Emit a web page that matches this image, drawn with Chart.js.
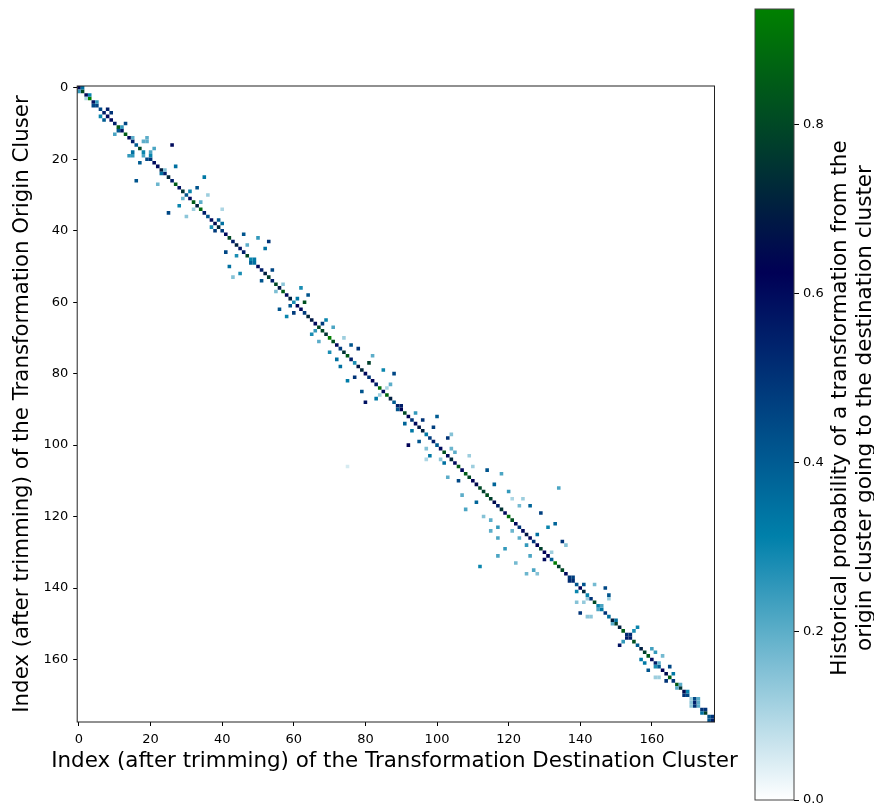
<!DOCTYPE html>
<html lang="en">
<head>
<meta charset="UTF-8">
<title>Transformation probability heatmap</title>
<script src="https://cdn.jsdelivr.net/npm/chart.js"></script>
<style>
body { margin: 0; background: #fff; }
canvas { position: absolute; top: 0; }
#heatmap { left: 0; }
#colorbar { left: 745px; }
</style>
</head>
<body>
<canvas id="heatmap" width="745" height="805"></canvas>
<canvas id="colorbar" width="129" height="805"></canvas>
<script>
const tickValues = [0, 20, 40, 60, 80, 100, 120, 140, 160];
const colorbarTicks = [0, 0.2, 0.4, 0.6, 0.8];
const clusterCount = 178;
const maxProbability = 0.937;

// diagonal of the matrix, index = cluster (0 = no cell)
const diagonal = [
	.6, .8, .6, .93, .58, .45, .45, .55, .6, .6, .55, .85, .58, .85, .6, .55, .4, .8, .3, 0,
	.5, .6, .6, .7, .55, .72, .55, .85, .58, .75, .42, .6, .85, .7, .88, .55, .42, .6, .65, .72,
	.48, .6, .8, .55, .7, .58, .55, .8, .3, .35, .6, .55, .7, .78, .55, .8, .68, .85, .6, .7,
	.28, .62, .6, .48, .72, .68, .6, .8, .8, .75, .93, .82, .6, .48, .75, .85, .55, .28, .68, .72,
	.6, .5, .62, .55, .9, .6, .88, .7, .4, .55, .62, .8, .62, .5, .6, .68, .7, .33, .48, .55,
	.4, .6, .82, .6, .72, .6, .85, .6, .85, .8, .62, .65, .8, .78, .82, .78, .65, .55, .75, .6,
	.9, .82, .6, .5, .6, .68, .6, .5, .62, .78, .62, .62, .4, .93, .78, .8, .6, .5, .52, .42,
	.62, .72, .3, .5, .8, .3, .33, .5, .35, .7, .78, .7, .85, .52, .55, .82, .4, .7, .78, .85,
	.6, .55, .4, .62, .65, .85, .5, .85, .75, .65, .45, .12, .55, .2, .5, .78, .42, .55
];

// off-diagonal cells, three parallel lists
const offOrigin = [
	0, 1, 2, 3, 4, 5, 6, 7, 8, 9, 10, 11, 12, 13, 14, 14, 15, 15, 16, 17,
	18, 18, 19, 19, 19, 19, 20, 21, 22, 23, 24, 26, 27, 28, 29, 30, 31, 32, 33, 34,
	34, 35, 36, 37, 38, 39, 40, 41, 42, 43, 44, 45, 46, 47, 48, 49, 50, 51, 52, 53,
	54, 55, 56, 57, 58, 59, 60, 61, 62, 63, 64, 65, 66, 67, 68, 69, 70, 71, 72, 73,
	74, 75, 76, 77, 78, 79, 80, 81, 82, 83, 84, 85, 86, 87, 88, 89, 90, 91, 92, 93,
	94, 95, 96, 97, 98, 99, 100, 101, 101, 102, 103, 103, 104, 104, 105, 106, 106, 107, 108, 109,
	110, 111, 112, 113, 114, 115, 115, 116, 117, 117, 118, 119, 120, 121, 122, 123, 123, 124, 124, 125,
	126, 126, 127, 128, 128, 129, 130, 131, 131, 132, 133, 134, 135, 136, 136, 137, 138, 139, 139, 140,
	141, 142, 143, 143, 144, 144, 145, 146, 147, 148, 148, 149, 150, 151, 152, 153, 154, 155, 156, 157,
	158, 159, 160, 161, 161, 162, 162, 163, 164, 165, 165, 166, 167, 168, 169, 170, 171, 171, 172, 172,
	173, 173, 174, 175, 176, 177, 25
];
const offDestination = [
	1, 0, 3, 2, 5, 4, 8, 9, 6, 7, 13, 12, 11, 10, 15, 19, 18, 19, 26, 21,
	15, 20, 14, 15, 18, 20, 19, 17, 27, 24, 23, 16, 22, 33, 31, 36, 29, 34, 28, 32,
	40, 25, 30, 39, 40, 37, 38, 46, 50, 53, 47, 52, 41, 44, 49, 48, 42, 54, 45, 43,
	51, 57, 62, 55, 64, 61, 63, 59, 56, 60, 58, 69, 68, 71, 66, 65, 74, 67, 76, 78,
	70, 82, 72, 81, 73, 85, 88, 77, 75, 87, 86, 79, 84, 83, 80, 90, 89, 94, 100, 96,
	91, 99, 93, 104, 103, 95, 92, 97, 104, 105, 98, 109, 97, 101, 102, 110, 75, 114, 118, 103,
	106, 116, 134, 120, 107, 121, 124, 111, 123, 126, 108, 129, 113, 115, 133, 117, 131, 115, 121, 128,
	117, 123, 135, 125, 136, 119, 132, 117, 126, 130, 122, 112, 127, 125, 128, 138, 137, 141, 144, 147,
	139, 148, 142, 148, 139, 141, 146, 145, 140, 142, 143, 150, 149, 156, 155, 154, 153, 152, 151, 160,
	161, 163, 157, 158, 162, 161, 165, 159, 166, 161, 162, 164, 168, 167, 170, 169, 172, 173, 171, 173,
	171, 172, 175, 174, 177, 176, 35
];
const offProbability = [
	.35, .25, .3, .1, .25, .45, .55, .5, .3, .4, .45, .25, .42, .22, .2, .2, .2, .2, .6, .22,
	.35, .22, .25, .25, .22, .3, .45, .4, .35, .15, .35, .42, .18, .42, .3, .12, .18, .2, .3, .12,
	.1, .45, .14, .4, .35, .28, .48, .42, .25, .5, .2, .35, .45, .28, .33, .38, .35, .45, .28, .15,
	.42, .14, .28, .16, .42, .33, .82, .42, .42, .48, .3, .3, .48, .22, .25, .28, .12, .2, .42, .5,
	.28, .2, .35, .78, .35, .3, .45, .5, .32, .2, .1, .42, .12, .33, .58, .55, .42, .25, .4, .5,
	.38, .47, .33, .15, .5, .42, .62, .15, .18, .2, .33, .12, .1, .14, .35, .12, .05, .42, .22, .2,
	.45, .38, .22, .25, .2, .1, .12, .38, .17, .38, .22, .47, .15, .2, .38, .25, .3, .2, .18, .35,
	.22, .2, .5, .25, .15, .25, .12, .22, .22, .6, .17, .3, .22, .18, .15, .47, .52, .42, .17, .45,
	.3, .42, .12, .12, .15, .13, .22, .22, .5, .14, .14, .35, .2, .3, .28, .52, .55, .25, .58, .23,
	.25, .17, .33, .33, .2, .28, .45, .42, .33, .12, .12, .5, .2, .2, .3, .5, .45, .2, .14, .2,
	.14, .5, .5, .35, .5, .42, .33
];

// matplotlib ocean_r
function oceanR(t) {
	const x = 1 - Math.min(1, Math.max(0, t));
	const r = Math.max(0, 3 * x - 2);
	const g = Math.min(1, Math.abs((3 * x - 1) / 2));
	return `rgb(${Math.round(r * 255)}, ${Math.round(g * 255)}, ${Math.round(x * 255)})`;
}

const cells = [];
diagonal.forEach((v, i) => {
	if (v > 0) cells.push({x: i, y: i, v: v});
});
offProbability.forEach((v, i) => {
	cells.push({x: offDestination[i], y: offOrigin[i], v: v});
});

const frame = {
	id: 'frame',
	afterDraw(chart) {
		const a = chart.chartArea;
		chart.ctx.save();
		chart.ctx.strokeStyle = chart.options.frameColor;
		chart.ctx.lineWidth = 1;
		chart.ctx.strokeRect(a.left, a.top, a.width, a.height);
		chart.ctx.restore();
	}
};

const axisFont = {family: 'DejaVu Sans', size: 13};
const titleFont = {family: 'DejaVu Sans', size: 21.3};

function setTicks(values) {
	return scale => { scale.ticks = values.map(v => ({value: v})); };
}

// Chart.js squeezes an axis title to the axis length, this one is wider than the axis
const xLabel = {
	id: 'xLabel',
	afterDraw(chart) {
		const ctx = chart.ctx;
		ctx.save();
		ctx.font = '21.4px "DejaVu Sans"';
		ctx.fillStyle = '#000';
		ctx.textAlign = 'center';
		ctx.textBaseline = 'middle';
		ctx.fillText('Index (after trimming) of the Transformation Destination Cluster', 394.5, 761);
		ctx.restore();
	}
};

new Chart(document.getElementById('heatmap'), {
	type: 'scatter',
	data: {
		datasets: [{
			data: cells,
			pointStyle: 'rect',
			borderWidth: 0,
			backgroundColor: c => oceanR(c.raw.v / maxProbability),
			radius: c => c.chart.scales.x.width / clusterCount * Math.SQRT1_2
		}]
	},
	options: {
		responsive: false,
		animation: false,
		frameColor: '#222',
		layout: {padding: {top: 86, right: 30.5}},
		plugins: {legend: {display: false}, tooltip: {enabled: false}},
		scales: {
			x: {
				min: -0.5,
				max: clusterCount - 0.5,
				afterBuildTicks: setTicks(tickValues),
				afterFit: s => { s.height = 83; },
				grid: {drawOnChartArea: false, tickLength: 4, color: '#000'},
				border: {display: false},
				ticks: {font: axisFont, color: '#000', maxRotation: 0, padding: 6}
			},
			y: {
				reverse: true,
				min: -0.5,
				max: clusterCount - 0.5,
				afterBuildTicks: setTicks(tickValues),
				afterFit: s => { s.width = 77.2; },
				grid: {drawOnChartArea: false, tickLength: 4, color: '#000'},
				border: {display: false},
				ticks: {font: axisFont, color: '#000', padding: 5},
				title: {
					display: true,
					text: 'Index (after trimming) of the Transformation Origin Cluser',
					font: titleFont,
					color: '#000',
					padding: {top: 10, bottom: 0}
				}
			}
		}
	},
	plugins: [frame, xLabel]
});

// the rotated two line label of the colorbar
const barLabel = {
	id: 'barLabel',
	afterDraw(chart) {
		const ctx = chart.ctx;
		ctx.save();
		ctx.translate(0, 408);
		ctx.rotate(-Math.PI / 2);
		ctx.font = '21.5px "DejaVu Sans"';
		ctx.fillStyle = '#000';
		ctx.textAlign = 'center';
		ctx.textBaseline = 'middle';
		ctx.fillText('Historical probability of a transformation from the', 0, 95);
		ctx.fillText('origin cluster going to the destination cluster', 0, 120);
		ctx.restore();
	}
};

new Chart(document.getElementById('colorbar'), {
	type: 'bar',
	data: {
		labels: ['p'],
		datasets: [{
			data: [[0, maxProbability]],
			barPercentage: 1,
			categoryPercentage: 1,
			backgroundColor: c => {
				const a = c.chart.chartArea;
				if (!a) return '#fff';
				const g = c.chart.ctx.createLinearGradient(0, a.bottom, 0, a.top);
				for (let i = 0; i <= 30; i++) g.addColorStop(i / 30, oceanR(i / 30));
				return g;
			}
		}]
	},
	options: {
		responsive: false,
		animation: false,
		frameColor: '#444',
		layout: {padding: {left: 10, top: 9, bottom: 5}},
		plugins: {legend: {display: false}, tooltip: {enabled: false}},
		scales: {
			x: {display: false},
			y: {
				position: 'right',
				min: 0,
				max: maxProbability,
				afterBuildTicks: setTicks(colorbarTicks),
				afterFit: s => { s.width = 80; s.paddingTop = 0; s.paddingBottom = 0; },
				grid: {drawOnChartArea: false, tickLength: 5, color: '#000'},
				border: {display: false},
				ticks: {font: axisFont, color: '#000', padding: 4, callback: v => v.toFixed(1)}
			}
		}
	},
	plugins: [frame, barLabel]
});
</script>
</body>
</html>
